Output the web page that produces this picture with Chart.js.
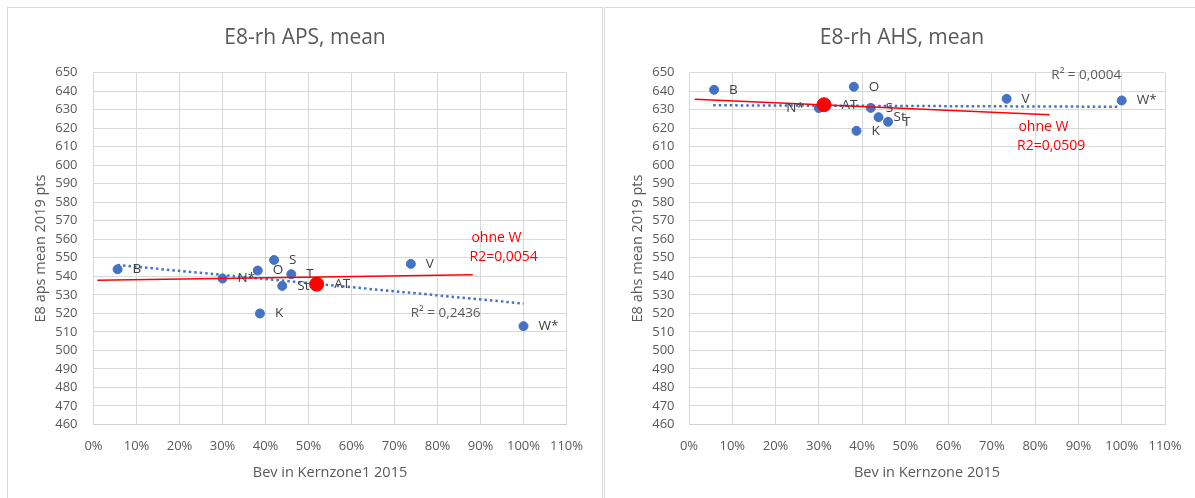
<!DOCTYPE html>
<html>
<head>
<meta charset="utf-8">
<script src="https://cdn.jsdelivr.net/npm/chart.js@4.4.1/dist/chart.umd.min.js"></script>
<style>
  body { margin: 0; background: #fff; width: 1195px; height: 498px; overflow: hidden; position: relative; }
  .box { position: absolute; top: 7px; width: 594px; height: 500px; border: 1px solid #d9d9d9; background: #fff; }
  canvas { display: block; }
</style>
</head>
<body>
<div class="box" style="left:7px"><canvas id="aps" width="594" height="490"></canvas></div>
<div class="box" style="left:604px"><canvas id="ahs" width="594" height="490"></canvas></div>
<script>
// Bezirke (labels next to the blue points)
var districts = ['B', 'N*', 'O', 'S', 'T', 'St', 'K', 'V', 'W*'];

// APS: share of population in Kernzone1 (%) and E8 mean 2019
var apsShare = [5.6, 30.0, 38.2, 42.0, 46.0, 43.9, 38.7, 73.8, 100];
var apsMean  = [543.8, 538.8, 543.1, 548.8, 541.1, 534.8, 519.9, 546.7, 513.1];
var apsAtShare = [51.9];
var apsAtMean  = [535.7];
var apsTrendX = [5.6, 100];      // linear trend, all districts
var apsTrendY = [546.1, 525.3];
var apsOhneWX = [0.9, 88.2];     // trend without W
var apsOhneWY = [537.9, 540.8];

// AHS
var ahsShare = [5.8, 30.0, 38.1, 42.0, 46.0, 43.8, 38.7, 73.4, 100];
var ahsMean  = [640.7, 630.8, 642.3, 630.9, 623.4, 625.9, 618.5, 635.8, 634.9];
var ahsAtShare = [31.2];
var ahsAtMean  = [632.6];
var ahsTrendX = [5.6, 99.5];
var ahsTrendY = [632.3, 631.5];
var ahsOhneWX = [1.3, 83.3];
var ahsOhneWY = [635.6, 627.2];

var xTicks = [0, 10, 20, 30, 40, 50, 60, 70, 80, 90, 100, 110];
var yTicks = [460, 470, 480, 490, 500, 510, 520, 530, 540, 550, 560, 570, 580, 590, 600, 610, 620, 630, 640, 650];

var GREY = '#595959';
var FONT = '"Open Sans", "Liberation Sans", sans-serif';

function pts(xs, ys) {
  return xs.map(function (x, i) { return { x: x, y: ys[i] }; });
}

// draws the chart title, the point names and the free text boxes
var labelPlugin = {
  id: 'pointNames',
  afterDatasetsDraw: function (chart, args, opts) {
    var ctx = chart.ctx;
    var xs = chart.scales.x, ys = chart.scales.y;
    ctx.save();
    ctx.textBaseline = 'middle';

    ctx.font = '21px ' + FONT;
    ctx.fillStyle = GREY;
    ctx.textAlign = 'center';
    ctx.fillText(opts.title, chart.width / 2, 30);

    chart.data.datasets.forEach(function (ds, di) {
      if (!ds.pointNames) return;
      var meta = chart.getDatasetMeta(di);
      meta.data.forEach(function (el, i) {
        var name = ds.pointNames[i];
        var off = ds.pointRadius + 10.5;
        ctx.font = '13.5px ' + FONT;
        ctx.fillStyle = '#404040';
        if (opts.leftNames.indexOf(name) >= 0) {
          ctx.textAlign = 'right';
          ctx.fillText(name, el.x - off, el.y);
        } else {
          ctx.textAlign = 'left';
          ctx.fillText(name, el.x + off, el.y);
        }
      });
    });
    opts.notes.forEach(function (n) {
      ctx.font = n.size + 'px ' + FONT;
      ctx.fillStyle = n.color;
      ctx.textAlign = 'center';
      ctx.fillText(n.text, xs.getPixelForValue(n.x), ys.getPixelForValue(n.y));
    });
    ctx.restore();
  }
};

function makeChart(id, c) {
  return new Chart(document.getElementById(id), {
    type: 'scatter',
    data: {
      datasets: [{
        data: pts(c.share, c.mean),
        pointNames: districts,
        backgroundColor: '#4472C4',
        borderColor: '#4472C4',
        pointRadius: 4.5,
        order: 3
      }, {
        data: pts(c.atShare, c.atMean),
        pointNames: ['AT'],
        backgroundColor: '#FF0000',
        borderColor: '#FF0000',
        pointRadius: 7,
        order: 0
      }, {
        data: pts(c.trendX, c.trendY),
        showLine: true,
        pointRadius: 0,
        borderColor: '#4472C4',
        borderWidth: 2.5,
        borderDash: [2.5, 3],
        order: 2
      }, {
        data: pts(c.ohneX, c.ohneY),
        showLine: true,
        pointRadius: 0,
        borderColor: '#FF0000',
        borderWidth: 1.5,
        order: 1
      }]
    },
    options: {
      responsive: false,
      animation: false,
      events: [],
      layout: { padding: { left: 0, right: 594 - c.plotRight, top: 64.5, bottom: 16.6 } },
      plugins: {
        legend: { display: false },
        tooltip: { enabled: false },
        title: { display: false },
        pointNames: { title: c.title, leftNames: c.leftNames, notes: c.notes }
      },
      scales: {
        x: {
          type: 'linear',
          min: 0, max: 110,
          afterBuildTicks: function (s) { s.ticks = xTicks.map(function (v) { return { value: v }; }); },
          afterFit: function (s) { s.height = 56.9; },
          grid: { color: '#d9d9d9', drawTicks: false },
          border: { color: '#d0d0d0' },
          ticks: {
            autoSkip: false,
            maxRotation: 0,
            padding: 14,
            color: GREY,
            font: { family: FONT, size: 13 },
            callback: function (v) { return v + '%'; }
          },
          title: {
            display: true,
            text: c.xTitle,
            color: GREY,
            font: { family: FONT, size: 14.5 },
            padding: 0
          }
        },
        y: {
          min: 460, max: 650,
          afterBuildTicks: function (s) { s.ticks = yTicks.map(function (v) { return { value: v }; }); },
          afterFit: function (s) { s.width = c.plotLeft; },
          grid: { color: '#d9d9d9', drawTicks: false },
          border: { color: '#d9d9d9' },
          ticks: {
            autoSkip: false,
            padding: c.yPad,
            color: GREY,
            font: { family: FONT, size: 13 }
          },
          title: {
            display: true,
            text: c.yTitle,
            color: GREY,
            font: { family: FONT, size: 14.5 },
            padding: { top: 24.3, bottom: 0 }
          }
        }
      }
    },
    plugins: [labelPlugin]
  });
}

makeChart('aps', {
  title: 'E8-rh APS, mean',
  xTitle: 'Bev in Kernzone1 2015',
  yTitle: 'E8 aps mean 2019 pts',
  share: apsShare, mean: apsMean,
  atShare: apsAtShare, atMean: apsAtMean,
  trendX: apsTrendX, trendY: apsTrendY,
  ohneX: apsOhneWX, ohneY: apsOhneWY,
  plotLeft: 85.5, plotRight: 558.5, yPad: 16,
  leftNames: [],
  notes: [
    { text: 'R² = 0,2436', x: 81.9, y: 520.0, size: 13.5, color: GREY },
    { text: 'ohne W', x: 93.7, y: 560.9, size: 14, color: '#FF0000' },
    { text: 'R2=0,0054', x: 95.4, y: 550.5, size: 14, color: '#FF0000' }
  ]
});

makeChart('ahs', {
  title: 'E8-rh AHS, mean',
  xTitle: 'Bev in Kernzone 2015',
  yTitle: 'E8 ahs mean 2019 pts',
  share: ahsShare, mean: ahsMean,
  atShare: ahsAtShare, atMean: ahsAtMean,
  trendX: ahsTrendX, trendY: ahsTrendY,
  ohneX: ahsOhneWX, ohneY: ahsOhneWY,
  plotLeft: 84, plotRight: 560, yPad: 14.5,
  leftNames: ['N*'],
  notes: [
    { text: 'R² = 0,0004', x: 91.8, y: 648.5, size: 13.5, color: GREY },
    { text: 'ohne W', x: 81.9, y: 620.6, size: 14, color: '#FF0000' },
    { text: 'R2=0,0509', x: 83.7, y: 610.4, size: 14, color: '#FF0000' }
  ]
});
</script>
</body>
</html>
